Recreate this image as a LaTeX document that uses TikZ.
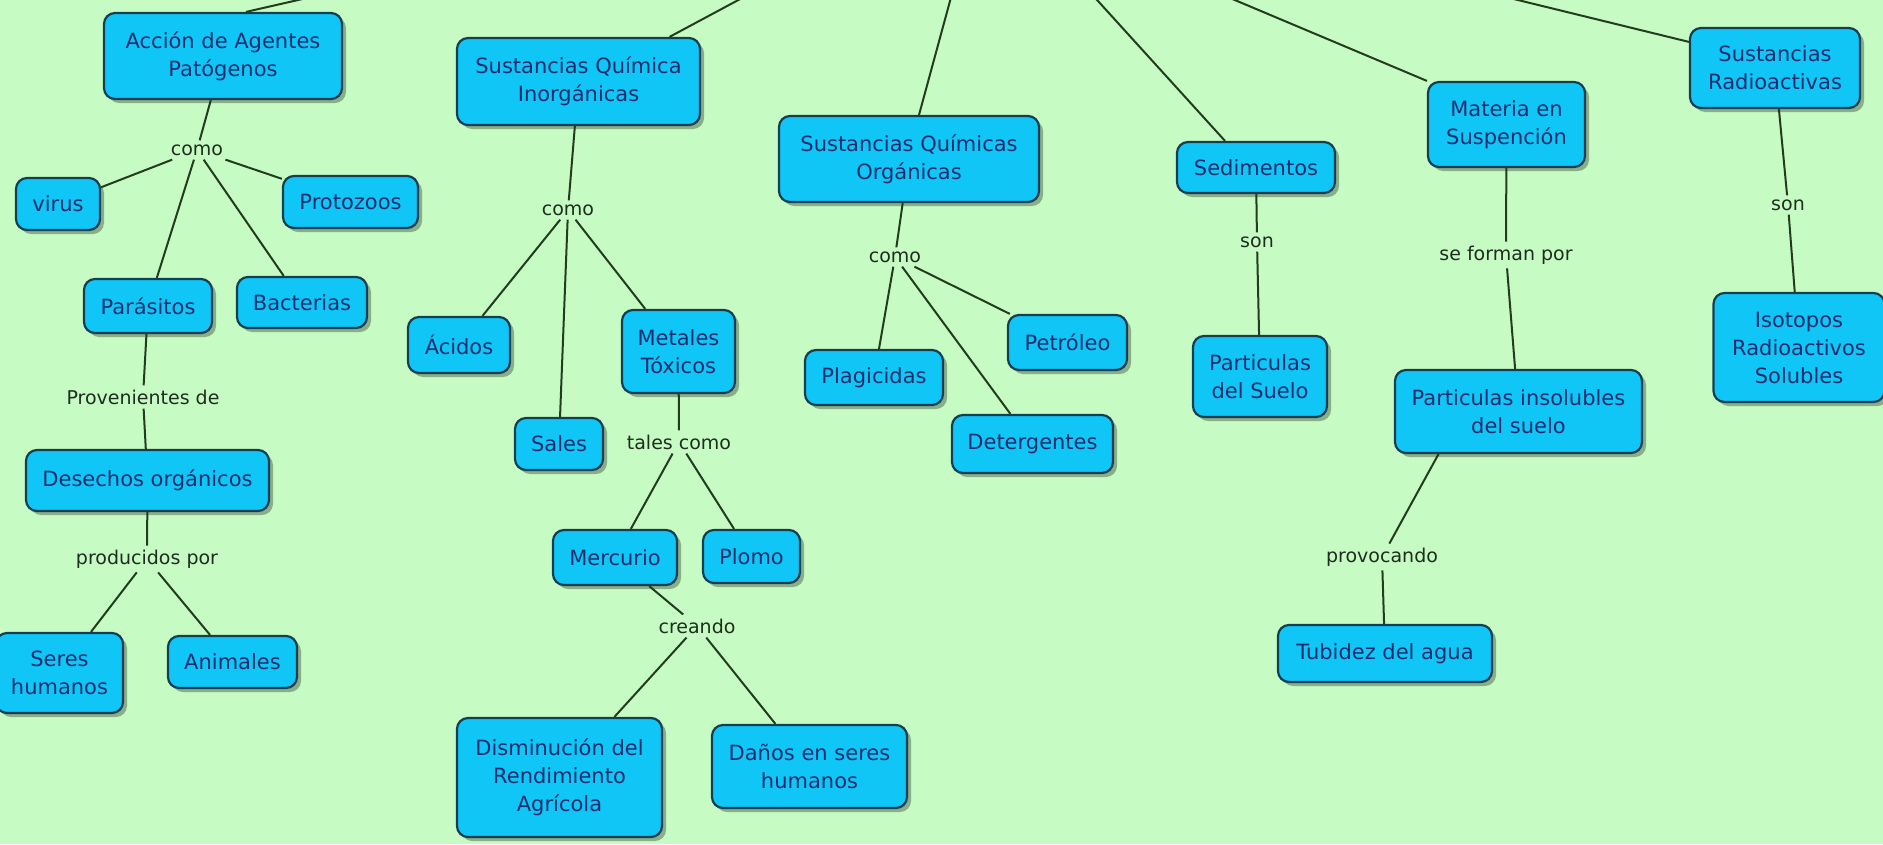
\documentclass[tikz,border=0pt]{standalone}
\usepackage{fontspec}
\setmainfont{DejaVu Sans}
\usetikzlibrary{shadows}
\definecolor{bgc}{RGB}{198,252,196}
\definecolor{boxc}{RGB}{16,198,246}
\definecolor{bordc}{RGB}{22,62,82}
\definecolor{txtc}{RGB}{25,45,110}
\definecolor{labc}{RGB}{30,45,30}
\definecolor{linec}{RGB}{35,60,30}
\tikzset{
  cbox/.style={draw=bordc, fill=boxc, line width=2.2pt, rounded corners=11pt,
    align=center, text=txtc, font={\fontsize{21}{28}\selectfont}, inner sep=2pt,
    drop shadow={shadow xshift=4pt, shadow yshift=-4pt, opacity=0.3, fill=black}},
  sz/.style 2 args={minimum width=#1pt, minimum height=#2pt},
  lab/.style={text=labc, font={\fontsize{19}{24}\selectfont}, inner sep=4pt},
  link/.style={draw=linec, line width=2pt}
}
\begin{document}
\begin{tikzpicture}[x=1pt,y=-1pt]
\useasboundingbox (0,0) rectangle (1883,844);
\fill[bgc] (0,0) rectangle (1883,844);
\clip (0,0) rectangle (1883,844);

% free ends of the connectors leaving the top of the picture
\coordinate (r1) at (342,-10);
\coordinate (r2) at (757,-10);
\coordinate (r3) at (953,-10);
\coordinate (r4) at (1088,-10);
\coordinate (r5) at (1211,-10);
\coordinate (r6) at (1477,-10);

% concept nodes
\node[cbox,sz={238}{86}] (acc) at (223,56) {Acción de Agentes\\Patógenos};
\node[cbox,sz={84}{52}] (virus) at (58,204) {virus};
\node[cbox,sz={135}{52}] (proto) at (350.5,202) {Protozoos};
\node[cbox,sz={128}{54}] (paras) at (148,306) {Parásitos};
\node[cbox,sz={130}{51}] (bact) at (302,302.5) {Bacterias};
\node[cbox,sz={243}{61}] (des) at (147.5,480.5) {Desechos orgánicos};
\node[cbox,sz={127}{80}] (seres) at (59.5,673) {Seres\\humanos};
\node[cbox,sz={129}{52}] (anim) at (232.5,662) {Animales};

\node[cbox,sz={243}{87}] (inorg) at (578.5,81.5) {Sustancias Química\\Inorgánicas};
\node[cbox,sz={102}{56}] (acid) at (459,345) {Ácidos};
\node[cbox,sz={113}{83}] (metal) at (678.5,351.5) {Metales\\Tóxicos};
\node[cbox,sz={88}{52}] (sales) at (559,444) {Sales};
\node[cbox,sz={124}{55}] (merc) at (615,557.5) {Mercurio};
\node[cbox,sz={97}{53}] (plomo) at (751.5,556.5) {Plomo};
\node[cbox,sz={205}{119}] (dismin) at (559.5,777.5) {Disminución del\\Rendimiento\\Agrícola};
\node[cbox,sz={195}{83}] (danos) at (809.5,766.5) {Daños en seres\\humanos};

\node[cbox,sz={260}{86}] (org) at (909,159) {Sustancias Químicas\\Orgánicas};
\node[cbox,sz={138}{55}] (plag) at (874,377.5) {Plagicidas};
\node[cbox,sz={119}{55}] (petr) at (1067.5,342.5) {Petróleo};
\node[cbox,sz={161}{58}] (deter) at (1032.5,444) {Detergentes};

\node[cbox,sz={158}{51}] (sed) at (1256,167.5) {Sedimentos};
\node[cbox,sz={134}{81}] (part) at (1260,376.5) {Particulas\\del Suelo};

\node[cbox,sz={157}{85}] (mat) at (1506.5,124.5) {Materia en\\Suspención};
\node[cbox,sz={247}{83}] (pins) at (1518.5,411.5) {Particulas insolubles\\del suelo};
\node[cbox,sz={214}{57}] (tub) at (1385,653.5) {Tubidez del agua};

\node[cbox,sz={170}{80}] (rad) at (1775,68) {Sustancias\\Radioactivas};
\node[cbox,sz={171}{109}] (iso) at (1799,347.5) {Isotopos\\Radioactivos\\Solubles};

% linking phrases
\node[lab] (como1) at (197,150) {como};
\node[lab] (prov) at (143,397) {Provenientes de};
\node[lab] (prod) at (147,559) {producidos por};
\node[lab] (como2) at (568,210) {como};
\node[lab] (tales) at (679,442) {tales como};
\node[lab] (crea) at (697,626) {creando};
\node[lab] (como3) at (895,257) {como};
\node[lab] (son1) at (1257,242) {son};
\node[lab] (sefor) at (1506,255) {se forman por};
\node[lab] (provo) at (1382,557) {provocando};
\node[lab] (son2) at (1788,205) {son};

% connectors to the top
\draw[link] ([xshift=23pt]acc.north) -- (r1);
\draw[link] ([xshift=91pt]inorg.north) -- (r2);
\draw[link] ([xshift=10pt]org.north) -- (r3);
\draw[link] ([xshift=-31pt]sed.north) -- (r4);
\draw[link] (mat.north west) -- (r5);
\draw[link] ([yshift=-15pt]rad.north west) -- (r6);

% group A
\draw[link] (acc) -- (como1);
\draw[link] (como1) -- (virus);
\draw[link] (como1) -- (proto);
\draw[link] (como1) -- (paras);
\draw[link] (como1) -- (bact);
\draw[link] (paras) -- (prov);
\draw[link] (prov) -- (des);
\draw[link] (des) -- (prod);
\draw[link] (prod) -- (seres);
\draw[link] (prod) -- (anim);

% group B
\draw[link] (inorg) -- (como2);
\draw[link] (como2) -- (acid);
\draw[link] (como2) -- (sales);
\draw[link] (como2) -- (metal);
\draw[link] (metal) -- (tales);
\draw[link] (tales) -- (merc);
\draw[link] (tales) -- (plomo);
\draw[link] (merc) -- (crea);
\draw[link] (crea) -- (dismin);
\draw[link] (crea) -- (danos);

% group C
\draw[link] (org) -- (como3);
\draw[link] (como3) -- (plag);
\draw[link] (como3) -- (deter);
\draw[link] (como3) -- (petr);

% group D
\draw[link] (sed) -- (son1);
\draw[link] (son1) -- (part);

% group E
\draw[link] (mat) -- (sefor);
\draw[link] (sefor) -- (pins);
\draw[link] ([xshift=-80pt]pins.south) -- (provo);
\draw[link] (provo) -- (tub);

% group F
\draw[link] (rad) -- (son2);
\draw[link] (son2) -- (iso);
\end{tikzpicture}
\end{document}
